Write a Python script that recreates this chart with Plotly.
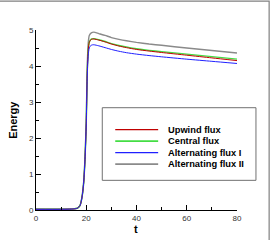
import plotly.graph_objects as go

t = [0, 10, 15, 16.5, 17.5, 18, 18.5, 19, 19.5, 20, 20.4, 20.8, 21.2, 22, 23, 25, 27.5, 30, 33, 36, 40, 45, 50, 60, 70, 80]
upwind = [0.02, 0.02, 0.03, 0.05, 0.12, 0.24, 0.44, 0.78, 1.4, 2.4, 3.85, 4.45, 4.66, 4.74, 4.75, 4.72, 4.67, 4.61, 4.555, 4.51, 4.46, 4.415, 4.375, 4.30, 4.225, 4.15]
central = [0.02, 0.02, 0.03, 0.05, 0.12, 0.24, 0.44, 0.78, 1.4, 2.4, 3.85, 4.45, 4.66, 4.75, 4.76, 4.73, 4.68, 4.62, 4.57, 4.53, 4.48, 4.435, 4.40, 4.33, 4.26, 4.19]
alt1 = [0.02, 0.02, 0.03, 0.05, 0.12, 0.24, 0.44, 0.78, 1.4, 2.4, 3.75, 4.30, 4.50, 4.58, 4.59, 4.56, 4.51, 4.46, 4.41, 4.37, 4.33, 4.29, 4.255, 4.19, 4.13, 4.07]
alt2 = [0.02, 0.02, 0.03, 0.05, 0.12, 0.25, 0.46, 0.80, 1.45, 2.5, 4.0, 4.65, 4.85, 4.92, 4.94, 4.90, 4.85, 4.79, 4.74, 4.70, 4.655, 4.61, 4.575, 4.50, 4.43, 4.36]

names = ["Upwind flux", "Central flux", "Alternating flux I", "Alternating flux II"]
series = [upwind, central, alt1, alt2]
colors = ["#c00000", "#44dd44", "#2020ff", "#8a8a8a"]
widths = [1, 1.4, 1, 1.4]

x_ticks = [0, 20, 40, 60, 80]
y_ticks = [0, 1, 2, 3, 4, 5]
x_title = "t"
y_title = "Energy"

fig = go.Figure()
order = [3, 1, 0, 2]
for i in order:
    fig.add_trace(go.Scatter(x=t, y=series[i], mode="lines", name=names[i],
                             line=dict(color=colors[i], width=widths[i], shape="spline", smoothing=0.6),
                             showlegend=False))

font = "Arial, Liberation Sans, sans-serif"
L, R, T, B = 35.6, 33, 29.5, 30.3
W, H = 270, 240
pw, ph = W - L - R, H - T - B

def px(xp):
    return (xp - L) / pw

def py(yp):
    return (H - B - yp) / ph

shapes = []
# outer frame (top and right edges visible)
shapes.append(dict(type="rect", xref="paper", yref="paper",
                   x0=px(-20), x1=px(269.2), y0=py(260), y1=py(0.5),
                   line=dict(color="#808080", width=1.2)))
# legend box
shapes.append(dict(type="rect", xref="paper", yref="paper",
                   x0=px(102), x1=px(256), y0=py(180), y1=py(107.3),
                   line=dict(color="#707070", width=1), fillcolor="white"))
rows = [129.3, 140.7, 152.3, 163.7]
annotations = []
for i, yy in enumerate(rows):
    shapes.append(dict(type="line", xref="paper", yref="paper",
                       x0=px(115), x1=px(158), y0=py(yy), y1=py(yy),
                       line=dict(color=colors[i], width=widths[i] + 0.3)))
    annotations.append(dict(xref="paper", yref="paper", x=px(166), y=py(yy),
                            xanchor="left", yanchor="middle", showarrow=False,
                            text="<b>" + names[i] + "</b>",
                            font=dict(family=font, size=9.3, color="black")))
annotations.append(dict(xref="paper", yref="paper", x=px(135.8), y=py(229),
                        xanchor="center", yanchor="middle", showarrow=False,
                        text="<b>" + x_title + "</b>",
                        font=dict(family=font, size=11, color="black")))
annotations.append(dict(xref="paper", yref="paper", x=px(13), y=py(119),
                        xanchor="center", yanchor="middle", showarrow=False, textangle=-90,
                        text="<b>" + y_title + "</b>",
                        font=dict(family=font, size=11, color="black")))

axis_common = dict(showgrid=False, zeroline=False, showline=True, linecolor="black",
                   linewidth=1, ticks="inside", ticklen=5, tickcolor="black",
                   tickwidth=1, tickfont=dict(family=font, size=8, color="#333333"),
                   automargin=False)

fig.update_layout(
    width=W, height=H,
    margin=dict(l=L, r=R, t=T, b=B),
    paper_bgcolor="white", plot_bgcolor="white",
    shapes=shapes, annotations=annotations,
    xaxis=dict(range=[0, 80], tickvals=x_ticks, ticktext=[str(v) for v in x_ticks],
               minor=dict(ticks="inside", ticklen=3, tickcolor="black", tickwidth=1,
                          tickvals=[10, 30, 50, 70]),
               **axis_common),
    yaxis=dict(range=[0, 5], tickvals=y_ticks, ticktext=[str(v) for v in y_ticks],
               minor=dict(ticks="inside", ticklen=3, tickcolor="black", tickwidth=1,
                          tickvals=[0.5, 1.5, 2.5, 3.5, 4.5]),
               **axis_common),
)

fig.write_html("out.html", config={"displayModeBar": False},
               post_script="document.body.style.margin='0';document.body.style.overflow='hidden';")
